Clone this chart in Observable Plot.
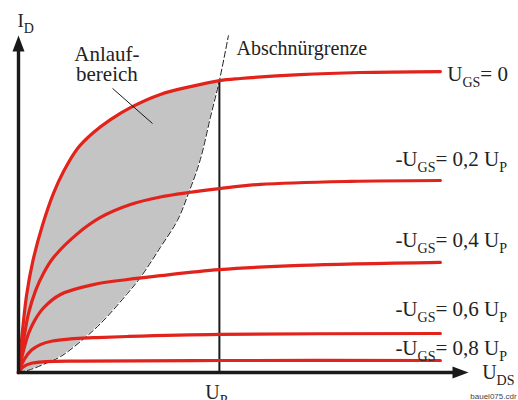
<!DOCTYPE html>
<html>
<head>
<meta charset="utf-8">
<script src="https://cdn.jsdelivr.net/npm/d3@7"></script>
<script src="https://cdn.jsdelivr.net/npm/@observablehq/plot@0.6"></script>
<style>
  html, body { margin: 0; padding: 0; background: #fff; }
</style>
</head>
<body>
<div id="chart"></div>
<script>
// Output characteristics of an n-channel JFET: drain current I_D (relative)
// versus drain-source voltage U_DS (in units of the pinch-off voltage U_P).

// U_GS = 0
const curve0 = [
  [0, 0], [0.02, 0.14], [0.04, 0.257], [0.07, 0.367], [0.119, 0.49],
  [0.174, 0.597], [0.224, 0.67], [0.294, 0.747], [0.373, 0.8],
  [0.458, 0.843], [0.557, 0.883], [0.706, 0.927], [0.856, 0.953],
  [1.0, 0.973], [1.104, 0.98], [1.403, 0.993], [1.701, 1.0], [2.1, 1.003]
];
// -U_GS = 0,2 U_P
const curve02 = [
  [0, 0], [0.025, 0.107], [0.05, 0.197], [0.085, 0.273], [0.124, 0.33],
  [0.174, 0.383], [0.294, 0.463], [0.408, 0.517], [0.557, 0.56],
  [0.706, 0.585], [0.846, 0.6], [1.0, 0.613], [1.204, 0.627],
  [1.652, 0.637], [2.1, 0.64]
];
// -U_GS = 0,4 U_P
const curve04 = [
  [0, 0], [0.025, 0.073], [0.05, 0.13], [0.08, 0.173], [0.124, 0.215],
  [0.209, 0.26], [0.373, 0.293], [0.542, 0.31], [0.706, 0.323],
  [1.0, 0.343], [1.403, 0.357], [2.1, 0.367]
];
// -U_GS = 0,6 U_P
const curve06 = [
  [0, 0], [0.03, 0.045], [0.065, 0.075], [0.109, 0.093], [0.169, 0.105],
  [0.259, 0.112], [0.373, 0.116], [0.542, 0.12], [1.0, 0.127], [2.1, 0.13]
];
// -U_GS = 0,8 U_P
const curve08 = [
  [0, 0], [0.02, 0.017], [0.06, 0.03], [0.134, 0.036], [0.308, 0.038],
  [1.0, 0.04], [2.1, 0.04]
];
// Pinch-off boundary (Abschnürgrenze)
const pinchOff = [
  [0, 0], [0.06, 0.01], [0.124, 0.027], [0.209, 0.053], [0.308, 0.103],
  [0.408, 0.163], [0.542, 0.263], [0.607, 0.317], [0.706, 0.417],
  [0.791, 0.507], [0.846, 0.597], [0.905, 0.71], [0.955, 0.85],
  [1.0, 0.973], [1.045, 1.123]
];

const curveLabels = ["U_{GS}= 0", "-U_{GS}= 0,2 U_{P}", "-U_{GS}= 0,4 U_{P}", "-U_{GS}= 0,6 U_{P}", "-U_{GS}= 0,8 U_{P}"];
const curveLabelX = [2.134, 1.876, 1.876, 1.876, 1.876];
const curveLabelY = [0.973, 0.687, 0.417, 0.19, 0.06];

const xMax = 2.24;   // end of the U_DS arrow
const yMax = 1.123;  // end of the I_D arrow
const UP = 1;        // pinch-off voltage

const red = "#e2231c";
const series = [curve0, curve02, curve04, curve06, curve08];
const lines = series.flatMap((c, k) => c.map(([x, y]) => ({x, y, k})));

// Ohmic region: between the U_GS = 0 curve and the pinch-off boundary up to U_P
const upper = curve0.filter(d => d[0] <= UP);
const lower = pinchOff.filter(d => d[0] <= UP);
const n = Math.max(upper.length, lower.length);
const band = d3.range(n).map(i => ({
  ux: upper[Math.min(i, upper.length - 1)][0], uy: upper[Math.min(i, upper.length - 1)][1],
  lx: lower[Math.min(i, lower.length - 1)][0], ly: lower[Math.min(i, lower.length - 1)][1]
}));
const iAtUP = curve0.find(d => d[0] === UP)[1];

// Filled triangular arrowhead, tip at the origin, pointing up
const arrowHead = {
  draw(ctx) {
    ctx.moveTo(0, 0);
    ctx.lineTo(6, 16);
    ctx.lineTo(-6, 16);
    ctx.closePath();
  }
};

const texts = [
  {x: -0.005, y: 1.153, t: "I_{D}", size: 19},
  {x: 2.308, y: -0.02, t: "U_{DS}", size: 20},
  {x: 0.93, y: -0.087, t: "U_{P}", size: 20},
  {x: 1.085, y: 1.057, t: "Abschnürgrenze", size: 20}
];

const chart = Plot.plot({
  width: 518,
  height: 400,
  marginLeft: 18,
  marginRight: 50,
  marginTop: 12,
  marginBottom: 28,
  x: {domain: [0, xMax], axis: null},
  y: {domain: [0, 1.2], axis: null},
  style: {fontFamily: "'Liberation Serif', 'Times New Roman', serif", background: "#fff", color: "#222"},
  marks: [
    Plot.area(band, {x1: "ux", y1: "uy", x2: "lx", y2: "ly", fill: "#c4c4c4", curve: "catmull-rom"}),
    Plot.ruleX([UP], {y1: 0, y2: iAtUP, stroke: "#1a1a1a", strokeWidth: 2}),
    Plot.line(pinchOff, {x: d => d[0], y: d => d[1], stroke: "#1a1a1a", strokeWidth: 1, strokeDasharray: "6,3", curve: "catmull-rom"}),
    Plot.line(lines, {x: "x", y: "y", z: "k", stroke: red, strokeWidth: 3.2, curve: "catmull-rom"}),
    // axes
    Plot.link([0], {x1: -0.008, y1: 0, x2: xMax - 0.03, y2: 0, stroke: "#1a1a1a", strokeWidth: 3.4}),
    Plot.link([0], {x1: 0, y1: -0.005, x2: 0, y2: yMax - 0.03, stroke: "#1a1a1a", strokeWidth: 3.4}),
    Plot.dot([0], {x: 0, y: yMax, symbol: arrowHead, fill: "#1a1a1a", stroke: null, rotate: 0}),
    Plot.dot([0], {x: xMax, y: 0, symbol: arrowHead, fill: "#1a1a1a", stroke: null, rotate: 90}),
    // leader from "Anlaufbereich" into the shaded region
    Plot.link([0], {x1: 0.468, y1: 0.947, x2: 0.667, y2: 0.83, stroke: "#1a1a1a", strokeWidth: 1}),
    Plot.text(["Anlauf-", "bereich"], {x: 0.44, y: (d, i) => i ? 0.973 : 1.04, text: d => d, textAnchor: "middle", lineAnchor: "bottom", fontSize: 21, fill: "#222"}),
    Plot.text(curveLabels, {x: (d, i) => curveLabelX[i], y: (d, i) => curveLabelY[i], text: d => d, textAnchor: "start", lineAnchor: "bottom", fontSize: 21, fill: "#222"}),
    Plot.text(texts, {x: "x", y: "y", text: "t", fontSize: "size", textAnchor: "start", lineAnchor: "bottom", fill: "#222"}),
    Plot.text(["bauel075.cdr"], {x: 2.249, y: -0.087, text: d => d, textAnchor: "start", lineAnchor: "bottom", fontSize: 8, fontFamily: "'Liberation Sans', Arial, sans-serif", fill: "#444"})
  ]
});

// Turn "_{...}" runs into subscripts
d3.select(chart).selectAll("text").each(function () {
  const s = this.textContent;
  if (!s.includes("_{")) return;
  const fs = parseFloat(getComputedStyle(this).fontSize) || parseFloat(this.getAttribute("font-size")) || 20;
  const sub = Math.round(fs * 0.72);
  const shift = Math.round(fs * 0.3);
  const parts = s.split(/(_\{[^}]*\})/).filter(p => p.length);
  this.textContent = "";
  let lowered = false;
  for (const p of parts) {
    const ts = d3.select(this).append("tspan");
    if (p.startsWith("_{")) {
      ts.text(p.slice(2, -1)).attr("font-size", sub).attr("dy", lowered ? 0 : shift);
      lowered = true;
    } else {
      ts.text(p).attr("dy", lowered ? -shift : 0);
      lowered = false;
    }
  }
});

document.getElementById("chart").append(chart);
</script>
</body>
</html>
